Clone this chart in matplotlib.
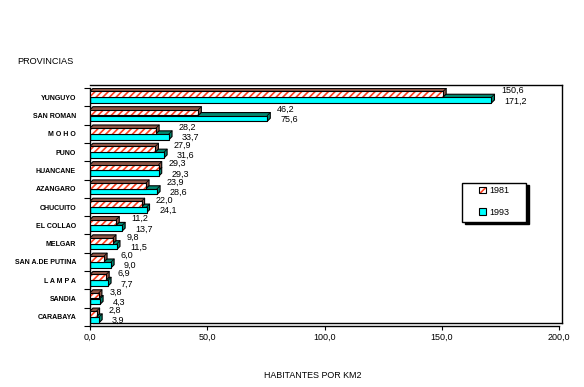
import matplotlib
matplotlib.use("Agg")
import matplotlib.pyplot as plt
from matplotlib.patches import Patch, Polygon, Rectangle
import numpy as np

plt.rcParams['font.family'] = ['Liberation Sans', 'DejaVu Sans']
plt.rcParams['hatch.linewidth'] = 1.2

provincias = ["YUNGUYO", "SAN ROMAN", "M O H O", "PUNO", "HUANCANE", "AZANGARO",
              "CHUCUITO", "EL COLLAO", "MELGAR", "SAN A.DE PUTINA", "L A M P A",
              "SANDIA", "CARABAYA"]
dens_1981 = [150.6, 46.2, 28.2, 27.9, 29.3, 23.9, 22.0, 11.2, 9.8, 6.0, 6.9, 3.8, 2.8]
dens_1993 = [171.2, 75.6, 33.7, 31.6, 29.3, 28.6, 24.1, 13.7, 11.5, 9.0, 7.7, 4.3, 3.9]
xticks = [0, 50, 100, 150, 200]

def coma(v):
    return ("%.1f" % v).replace(".", ",")

W, H = 584, 387
fig = plt.figure(figsize=(W / 100, H / 100), dpi=100)
ax = fig.add_axes([90 / W, 1 - 326 / H, (559 - 90) / W, (326 - 88) / H])
ax.set_xlim(0, 200)
ax.set_ylim(12.5, -0.5)

# 3D depth in data units (about 3 px each way)
dx = 3 / 2.345
dy = 3 / 18.3
h = 0.31

def bar3d(yc, v, front, side, z, hatched=False):
    yt, yb = yc - h / 2, yc + h / 2
    poly = Polygon([(0, yt), (dx, yt - dy), (v + dx, yt - dy), (v + dx, yb - dy),
                    (v, yb), (0, yb)], closed=True, fc=side, ec="black",
                   lw=0.8, zorder=z)
    ax.add_patch(poly)
    ax.plot([v, v + dx], [yt, yt - dy], color="black", lw=0.6, zorder=z)
    if hatched:
        ax.barh(yc, v, height=h, color="white", edgecolor=front, hatch="/////",
                lw=0, zorder=z + 0.5)
        ax.barh(yc, v, height=h, fill=False, edgecolor="black", lw=0.8, zorder=z + 0.6)
    else:
        ax.barh(yc, v, height=h, color=front, edgecolor="black", lw=0.8, zorder=z + 0.5)

y = np.arange(len(provincias))
for i in range(len(provincias)):
    bar3d(y[i] + 0.16, dens_1993[i], "#00FFFF", "#008870", 2)
    bar3d(y[i] - 0.16, dens_1981[i], "#FF4020", "#8E5444", 4, hatched=True)
    ax.text(max(dens_1981[i], dens_1993[i]) + 4, y[i] - 0.36, coma(dens_1981[i]),
            fontsize=6.5, ha="left", va="center", zorder=10)
    ax.text(dens_1993[i] + 5.5, y[i] + 0.2, coma(dens_1993[i]),
            fontsize=6.5, ha="left", va="center", zorder=10)

# back wall and floor
kw = dict(color="black", lw=1, clip_on=False, zorder=1)
ax.plot([0, 200 + dx], [-0.5 - dy, -0.5 - dy], **kw)
ax.plot([200 + dx, 200 + dx], [-0.5 - dy, 12.5 - dy], **kw)
ax.plot([dx, 200 + dx], [12.5 - dy, 12.5 - dy], **kw)

for s in ["top", "right"]:
    ax.spines[s].set_visible(False)
ax.spines["left"].set_linewidth(1)
ax.spines["bottom"].set_linewidth(1)

ax.set_xticks(xticks)
ax.set_xticklabels([coma(v) for v in xticks], fontsize=6.5)
ax.tick_params(axis="x", direction="out", length=3, width=0.8, pad=2)

ax.set_yticks(y)
ax.set_yticklabels(provincias, fontsize=5, fontweight="bold")
ax.set_yticks(np.arange(-0.5, len(provincias)), minor=True)
ax.tick_params(axis="y", which="major", length=0, pad=10)
ax.tick_params(axis="y", which="minor", direction="out", length=4, width=0.8)

fig.text(17 / W, 1 - 62 / H, "PROVINCIAS", fontsize=6.6, ha="left", va="center")
fig.text(313 / W, 1 - 376 / H, "HABITANTES POR KM2", fontsize=6.4, ha="center", va="center")

# legend box with shadow
ax.add_patch(Rectangle((464.5 / W, 1 - 224 / H), 64 / W, 38.5 / H,
                       transform=fig.transFigure, fc="black", ec="black",
                       zorder=15, clip_on=False))
ax.add_patch(Rectangle((462 / W, 1 - 221.7 / H), 64 / W, 38.5 / H,
                       transform=fig.transFigure, fc="white", ec="black",
                       lw=1, zorder=16, clip_on=False))
h81 = (Patch(facecolor="white", edgecolor="#FF4020", hatch="/////", lw=0),
       Patch(fill=False, edgecolor="black", lw=0.8))
h93 = Patch(facecolor="#00FFFF", edgecolor="black", lw=0.8)
leg = ax.legend([h81, h93], ["1981", "1993"], loc="upper left",
                bbox_to_anchor=(479 / W, 1 - 186 / H), bbox_transform=fig.transFigure,
                borderaxespad=0, borderpad=0, frameon=False, fontsize=6.5,
                handlelength=0.75, handleheight=0.75, handletextpad=0.35,
                labelspacing=1.4)
leg.set_zorder(20)

fig.savefig("out.png", dpi=100)
